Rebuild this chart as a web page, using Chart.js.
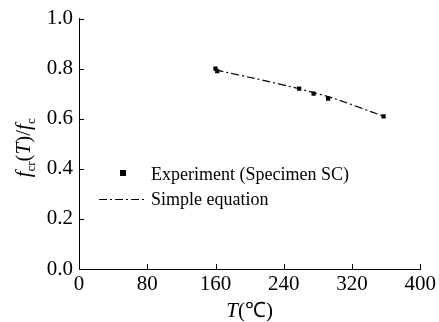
<!DOCTYPE html>
<html>
<head>
<meta charset="utf-8">
<script src="https://cdn.jsdelivr.net/npm/chart.js@4"></script>
<style>
  html, body { margin: 0; padding: 0; background: #fff; }
  #wrap { width: 439px; height: 322px; position: relative; }
</style>
</head>
<body>
<div id="wrap"><canvas id="chart" width="439" height="322"></canvas></div>
<script>
// Experiment (Specimen SC)
const expT = [160, 162, 258, 275, 292, 357];
const expRatio = [0.80, 0.79, 0.72, 0.70, 0.68, 0.61];

// Simple equation
const eqT = [160, 210, 258, 300, 357];
const eqRatio = [0.795, 0.758, 0.72, 0.68, 0.61];

const xTicks = [0, 80, 160, 240, 320, 400];
const yTicks = [0.0, 0.2, 0.4, 0.6, 0.8, 1.0];

const serif = "'Liberation Serif', 'Times New Roman', serif";
const dashDot = [8, 3, 2, 3];

// inward ticks, axis titles and the legend drawn on top
const decorations = {
  id: 'decorations',
  afterDraw(chart) {
    const ctx = chart.ctx;
    const x = chart.scales.x, y = chart.scales.y;
    const a = chart.chartArea;
    ctx.save();
    ctx.strokeStyle = '#000';
    ctx.lineWidth = 1;
    ctx.beginPath();
    xTicks.forEach(v => {
      const px = Math.round(x.getPixelForValue(v)) + 0.5;
      ctx.moveTo(px, a.bottom);
      ctx.lineTo(px, a.bottom - 5);
    });
    yTicks.forEach(v => {
      const py = Math.round(y.getPixelForValue(v)) + 0.5;
      ctx.moveTo(a.left, py);
      ctx.lineTo(a.left + 5, py);
    });
    ctx.stroke();

    ctx.fillStyle = '#000';
    ctx.textBaseline = 'alphabetic';

    // x title: T(℃)
    const xt = [['T', 'italic 21px ' + serif], ['(℃)', '21px ' + serif]];
    let w = 0;
    xt.forEach(([s, f]) => { ctx.font = f; w += ctx.measureText(s).width; });
    let cx = (a.left + a.right) / 2 - w / 2;
    xt.forEach(([s, f]) => { ctx.font = f; ctx.fillText(s, cx, 317); cx += ctx.measureText(s).width; });

    // y title: f_cr(T)/f_c
    const yt = [
      ['f', 'italic 21px ' + serif, 0],
      ['cr', '13px ' + serif, 5],
      ['(', '21px ' + serif, 0],
      ['T', 'italic 21px ' + serif, 0],
      [')/', '21px ' + serif, 0],
      ['f', 'italic 21px ' + serif, 0],
      ['c', '13px ' + serif, 5]
    ];
    w = 0;
    yt.forEach(([s, f]) => { ctx.font = f; w += ctx.measureText(s).width; });
    ctx.translate(30, (a.top + a.bottom) / 2 + 4);
    ctx.rotate(-Math.PI / 2);
    let tx = -w / 2;
    yt.forEach(([s, f, dy]) => { ctx.font = f; ctx.fillText(s, tx, dy); tx += ctx.measureText(s).width; });
    ctx.setTransform(1, 0, 0, 1, 0, 0);

    // legend
    ctx.font = '18px ' + serif;
    ctx.fillRect(120, 170, 6, 6);
    ctx.fillText('Experiment (Specimen SC)', 151, 180);
    ctx.beginPath();
    ctx.setLineDash(dashDot);
    ctx.lineWidth = 1.2;
    ctx.moveTo(99, 199.5);
    ctx.lineTo(144, 199.5);
    ctx.stroke();
    ctx.setLineDash([]);
    ctx.fillText('Simple equation', 151, 205);
    ctx.restore();
  }
};

new Chart(document.getElementById('chart'), {
  type: 'scatter',
  data: {
    datasets: [
      {
        label: 'Simple equation',
        data: eqT.map((t, i) => ({ x: t, y: eqRatio[i] })),
        showLine: true,
        borderColor: '#000',
        borderWidth: 1.2,
        borderDash: dashDot,
        pointRadius: 0,
        tension: 0.2,
        fill: false
      },
      {
        label: 'Experiment (Specimen SC)',
        data: expT.map((t, i) => ({ x: t, y: expRatio[i] })),
        pointStyle: 'rect',
        pointRadius: 3,
        backgroundColor: '#000',
        borderColor: '#000',
        borderWidth: 0
      }
    ]
  },
  options: {
    responsive: false,
    animation: false,
    devicePixelRatio: 1,
    layout: { padding: { top: 16, right: 17, left: 0, bottom: 0 } },
    plugins: { legend: { display: false }, tooltip: { enabled: false } },
    scales: {
      x: {
        type: 'linear',
        min: 0, max: 400,
        afterBuildTicks: s => { s.ticks = xTicks.map(v => ({ value: v })); },
        afterFit: s => { s.height = 53; },
        grid: { display: false, drawTicks: false },
        border: { display: true, color: '#000', width: 1 },
        ticks: { color: '#000', font: { family: serif, size: 21 }, padding: 3, maxRotation: 0 }
      },
      y: {
        min: 0, max: 1,
        afterBuildTicks: s => { s.ticks = yTicks.map(v => ({ value: v })); },
        afterFit: s => { s.width = 79; },
        grid: { display: false, drawTicks: false },
        border: { display: true, color: '#000', width: 1 },
        ticks: { color: '#000', font: { family: serif, size: 21 }, padding: 6, callback: v => v.toFixed(1) }
      }
    }
  },
  plugins: [decorations]
});
</script>
</body>
</html>
